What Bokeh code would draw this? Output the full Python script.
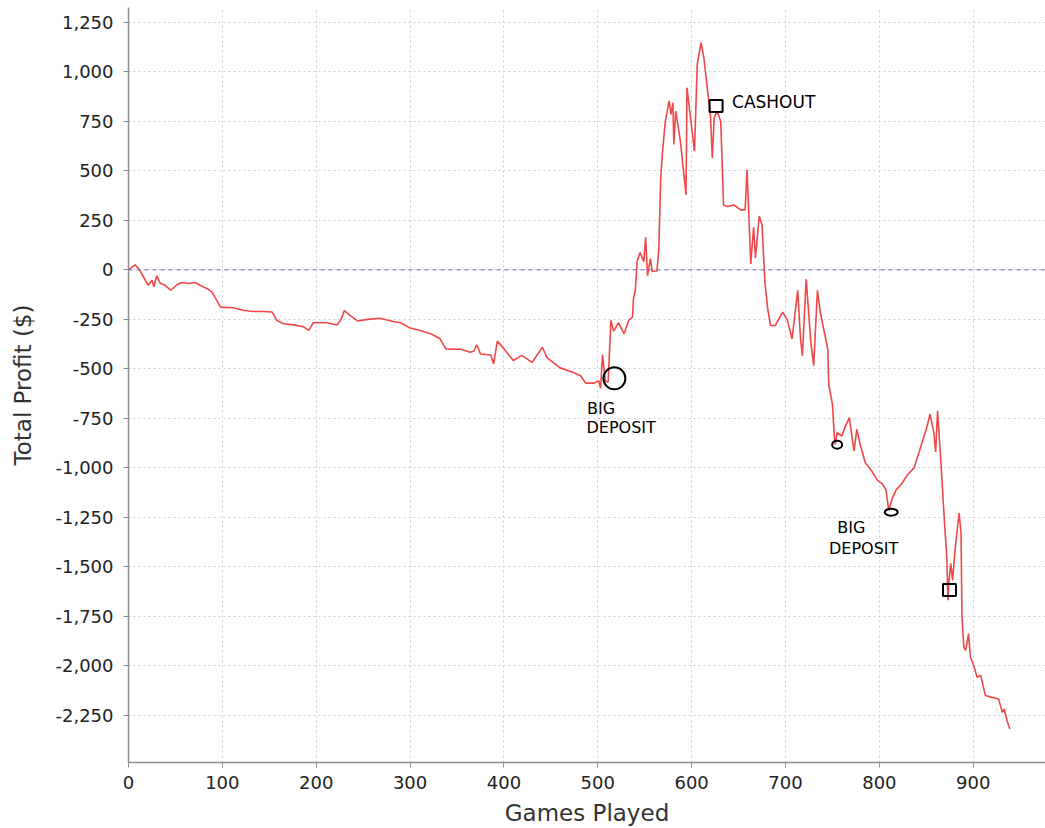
from bokeh.plotting import figure
from bokeh.models import Range1d, SingleIntervalTicker, NumeralTickFormatter, Span
from bokeh.core.properties import value
from bokeh.embed import file_html
from bokeh.resources import INLINE

# ---- data ----
games = [0, 3, 7, 11, 16, 21, 25, 27, 30, 34, 39, 45, 52, 57, 64, 71, 76, 84, 89, 94,
         98, 112, 123, 133, 144, 153, 158, 165, 176, 187, 192, 197, 212, 222, 226, 230,
         236, 244, 255, 268, 282, 290, 300, 311, 322, 332, 338, 354, 364, 368, 371, 375,
         386, 389, 393, 400, 410, 419, 430, 441, 446, 460, 474, 482, 487, 496, 501, 503,
         505, 508, 511, 514, 517, 522, 528, 533, 537, 538, 540, 542, 545, 549, 551, 553,
         556, 558, 563, 565, 567, 569, 572, 576, 578, 580, 581, 583, 588, 594, 595, 599,
         603, 606, 610, 613, 617, 620, 622, 624, 627, 631, 634, 638, 645, 652, 657, 659,
         663, 666, 668, 672, 675, 678, 681, 684, 689, 697, 702, 707, 713, 716, 718, 722,
         727, 730, 734, 737, 745, 746, 750, 752, 753, 755, 760, 764, 768, 773, 776, 780,
         785, 792, 798, 803, 807, 810, 814, 818, 823, 830, 837, 843, 850, 854, 858, 860,
         862, 865, 869, 872, 873, 874, 876, 878, 881, 885, 887, 888, 890, 892, 895, 897,
         901, 904, 908, 913, 920, 927, 931, 933, 936, 939]
profit = [0, 10, 25, 5, -36, -78, -52, -86, -30, -69, -78, -103, -74, -64, -69, -64, -78, -95, -112, -154,
          -188, -191, -205, -210, -210, -213, -255, -272, -278, -289, -306, -267, -267, -278, -255, -206,
          -230, -258, -250, -244, -261, -267, -294, -306, -323, -348, -399, -401, -416, -410, -378, -425,
          -430, -475, -360, -399, -458, -432, -467, -391, -445, -495, -518, -536, -572, -572, -560, -598,
          -428, -560, -568, -255, -310, -266, -323, -255, -239, -146, -103, 45, 88, 41, 165, -30,
          57, -8, -6, 100, 460, 599, 751, 853, 785, 844, 633, 802, 650, 379, 920, 760,
          599, 1039, 1148, 1072, 903, 785, 565, 768, 802, 751, 328, 320, 328, 303, 303, 506,
          30, 215, 60, 272, 227, -60, -196, -281, -281, -213, -255, -349, -103, -349, -433, -47,
          -365, -484, -103, -213, -399, -577, -680, -839, -881, -822, -839, -788, -746, -915, -805, -890,
          -974, -1017, -1063, -1080, -1110, -1215, -1150, -1110, -1085, -1035, -1000, -910, -805, -729, -822, -920,
          -712, -930, -1245, -1465, -1668, -1583, -1482, -1567, -1397, -1228, -1330, -1752, -1905, -1922, -1837, -1955,
          -2006, -2057, -2049, -2150, -2159, -2167, -2235, -2218, -2277, -2319]

# hand-drawn annotation marks (data coordinates)
big_circle_x = [517.7]
big_circle_y = [-548]
square_x = [626, 874.7]
square_y = [827, -1617]
small_circle_x = [755]
small_circle_y = [-883]
oval_x = [812.6]
oval_y = [-1224]
note_text = ["CASHOUT", "BIG", "DEPOSIT", "BIG", "DEPOSIT"]
note_x = [643, 488.6, 488, 755.2, 746.3]
note_y = [848, -700, -797, -1302, -1406]
note_size = ["17px", "16px", "16px", "16px", "16px"]

FONT = "DejaVu Sans"

p = figure(width=1045, height=828, output_backend="svg", toolbar_location=None,
           x_range=Range1d(0, 977), y_range=Range1d(-2488, 1325),
           min_border_left=128, min_border_right=0, min_border_top=7, min_border_bottom=10)
p.background_fill_color = "white"
p.border_fill_color = "white"
p.outline_line_color = None

# grid
for g in (p.xgrid, p.ygrid):
    g.grid_line_color = "#cfcfcf"
    g.grid_line_dash = "2 3"
    g.grid_line_width = 1

# axes
p.xaxis.ticker = SingleIntervalTicker(interval=100, num_minor_ticks=0)
p.yaxis.ticker = SingleIntervalTicker(interval=250, num_minor_ticks=0)
p.yaxis.formatter = NumeralTickFormatter(format="0,0")
p.xaxis.axis_label = "Games Played"
p.yaxis.axis_label = "Total Profit ($)"
for ax in (p.xaxis, p.yaxis):
    ax.axis_line_color = "#8c8c8c"
    ax.axis_line_width = 1.5
    ax.major_tick_line_color = "#8c8c8c"
    ax.major_tick_out = 5
    ax.major_tick_in = 0
    ax.minor_tick_line_color = None
    ax.major_label_text_font = FONT
    ax.major_label_text_font_size = "18px"
    ax.major_label_text_color = "#222222"
    ax.axis_label_text_font = FONT
    ax.axis_label_text_font_size = "23px"
    ax.axis_label_text_font_style = "normal"
    ax.axis_label_text_color = "#333333"
p.xaxis.major_label_standoff = 8
p.xaxis.axis_label_standoff = 8
p.yaxis.major_label_standoff = 10
p.yaxis.axis_label_standoff = 16

# zero marker
p.add_layout(Span(location=0, dimension="width", line_color="#6a6ac8",
                  line_dash="4 4", line_width=1))

# profit line
p.line(games, profit, line_color="#f04848", line_width=1.6)

# hand-drawn marks
p.scatter(big_circle_x, big_circle_y, marker="circle", size=22, fill_color=None,
          line_color="black", line_width=2)
p.rect(square_x, square_y, width=13, height=12, width_units="screen", height_units="screen",
       fill_color=None, line_color="black", line_width=2)
p.ellipse(small_circle_x, small_circle_y, width=10, height=8, width_units="screen",
          height_units="screen", fill_color=None, line_color="black", line_width=2)
p.ellipse(oval_x, oval_y, width=13, height=7, width_units="screen",
          height_units="screen", fill_color=None, line_color="black", line_width=2)
p.text(note_x, note_y, text=note_text, text_font=value(FONT), text_font_size=note_size,
       text_color="black", text_align="left", text_baseline="middle")

open("out.html", "w").write(file_html(p, INLINE))
